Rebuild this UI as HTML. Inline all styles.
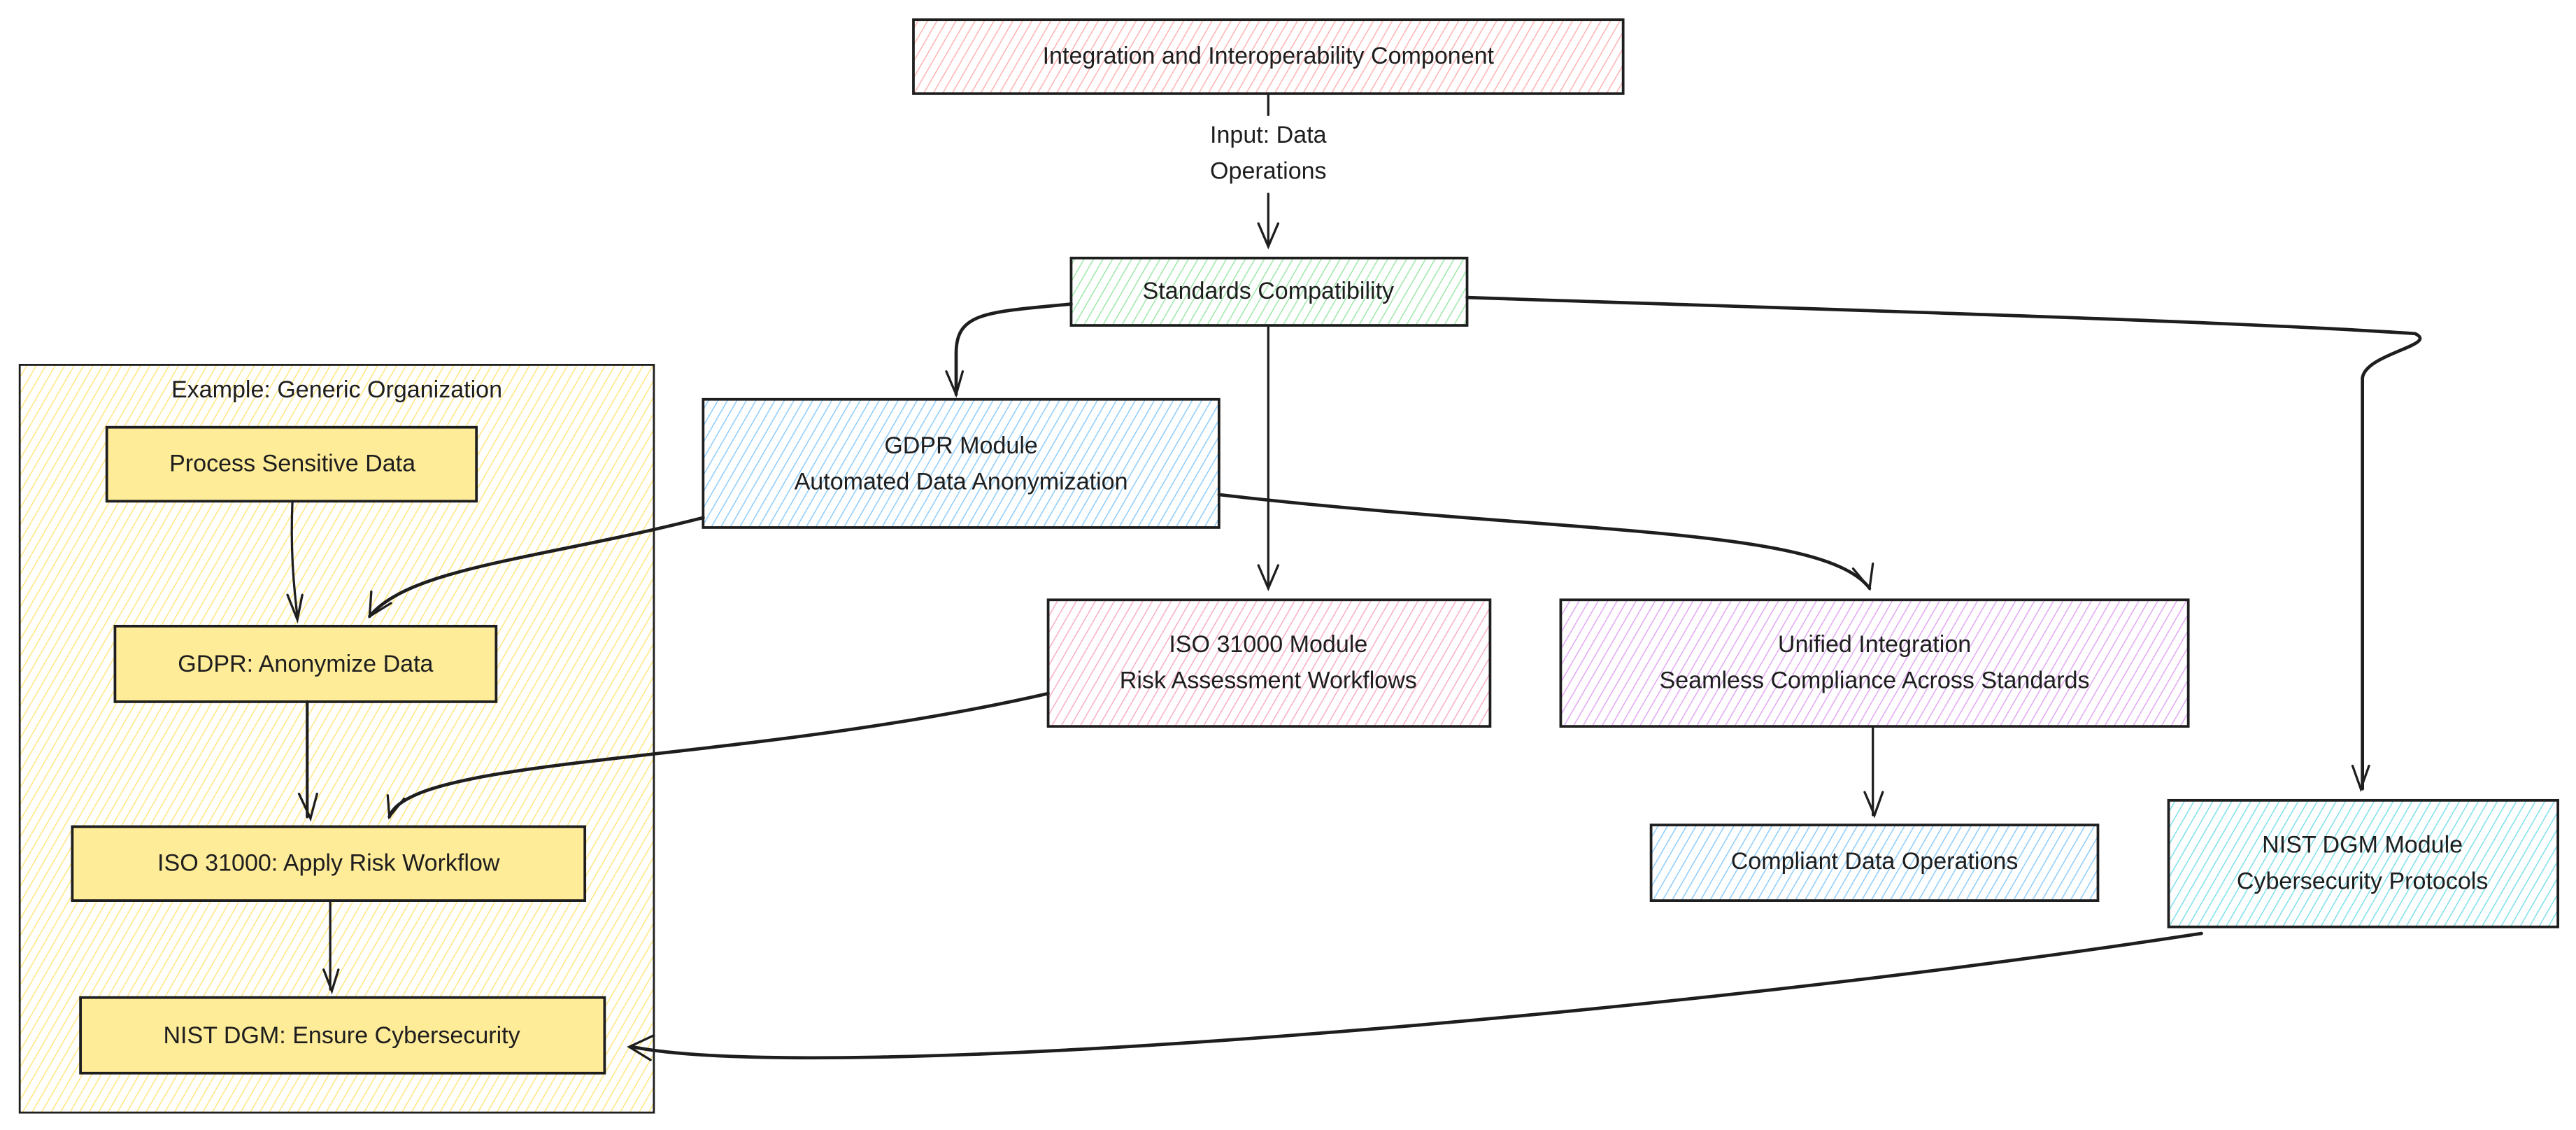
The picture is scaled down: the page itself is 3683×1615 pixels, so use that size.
<!DOCTYPE html>
<html><head><meta charset="utf-8"><style>
html,body{margin:0;padding:0;background:#fff;}
svg{display:block;}
text{font-family:"Liberation Sans",sans-serif;font-size:14.5px;fill:#1e1e1e;text-anchor:middle;dominant-baseline:middle;}
</style></head><body>
<svg width="3683" height="1615" viewBox="0 0 1568 687.6" preserveAspectRatio="none" xmlns="http://www.w3.org/2000/svg">
<defs>
<pattern id="pk" width="5" height="5" patternUnits="userSpaceOnUse" patternTransform="rotate(30)"><rect width="5" height="5" fill="#fff"/><line x1="0" y1="0" x2="0" y2="5" stroke="#ffb3b3" stroke-width="1.3"/></pattern>
<pattern id="gr" width="5" height="5" patternUnits="userSpaceOnUse" patternTransform="rotate(30)"><rect width="5" height="5" fill="#fff"/><line x1="0" y1="0" x2="0" y2="5" stroke="#9fe8aa" stroke-width="1.3"/></pattern>
<pattern id="bl" width="5" height="5" patternUnits="userSpaceOnUse" patternTransform="rotate(30)"><rect width="5" height="5" fill="#fff"/><line x1="0" y1="0" x2="0" y2="5" stroke="#8fcdfb" stroke-width="1.3"/></pattern>
<pattern id="rs" width="5" height="5" patternUnits="userSpaceOnUse" patternTransform="rotate(30)"><rect width="5" height="5" fill="#fff"/><line x1="0" y1="0" x2="0" y2="5" stroke="#f9aec8" stroke-width="1.3"/></pattern>
<pattern id="pu" width="5" height="5" patternUnits="userSpaceOnUse" patternTransform="rotate(30)"><rect width="5" height="5" fill="#fff"/><line x1="0" y1="0" x2="0" y2="5" stroke="#e3a8f5" stroke-width="1.3"/></pattern>
<pattern id="cy" width="5" height="5" patternUnits="userSpaceOnUse" patternTransform="rotate(30)"><rect width="5" height="5" fill="#fff"/><line x1="0" y1="0" x2="0" y2="5" stroke="#7fe0ec" stroke-width="1.3"/></pattern>
<pattern id="yl" width="5" height="5" patternUnits="userSpaceOnUse" patternTransform="rotate(30)"><rect width="5" height="5" fill="#fff"/><line x1="0" y1="0" x2="0" y2="5" stroke="#ffe680" stroke-width="1.3"/></pattern>
</defs>
<g stroke="#1e1e1e" stroke-width="1.6">
<rect x="12" y="222" width="386" height="455" fill="url(#yl)" stroke-width="1.2"/>
<rect x="556" y="12" width="432" height="45" fill="url(#pk)"/>
<rect x="652" y="157" width="241" height="41" fill="url(#gr)"/>
<rect x="428" y="243" width="314" height="78" fill="url(#bl)"/>
<rect x="638" y="365" width="269" height="77" fill="url(#rs)"/>
<rect x="950" y="365" width="382" height="77" fill="url(#pu)"/>
<rect x="1005" y="502" width="272" height="46" fill="url(#bl)"/>
<rect x="1320" y="487" width="237" height="77" fill="url(#cy)"/>
<rect x="65" y="260" width="225" height="45" fill="#ffec99"/>
<rect x="70" y="381" width="232" height="46" fill="#ffec99"/>
<rect x="44" y="503" width="312" height="45" fill="#ffec99"/>
<rect x="49" y="607" width="319" height="46" fill="#ffec99"/>
</g>
<g stroke="#1e1e1e" fill="none" stroke-width="1.4" stroke-linecap="round">
<path d="M772 57 V70 M772 118 V150"/><path d="M766 136 L772 150 L778 136"/>
<path d="M652 185 C600 190 582 190 582 215 V240" stroke-width="2"/><path d="M576 226 L582 240 L586 226"/>
<path d="M772 198 V358"/><path d="M766 344 L772 358 L778 344"/>
<path d="M893 181 C1100 188 1350 195 1470 203 C1485 210 1440 215 1438 230 V480" stroke-width="2"/><path d="M1432 466 L1437 480 L1442 466"/>
<path d="M428 315 C330 340 250 345 225 375" stroke-width="2"/><path d="M226 360 L225 375 L238 367"/>
<path d="M742 301 C950 325 1110 320 1138 358" stroke-width="2"/><path d="M1128 346 L1138 358 L1140 343"/>
<path d="M178 305 C177 330 178 350 181 375"/><path d="M175 362 L181 377 L184 362"/>
<path d="M187 427 V497" stroke-width="1.8"/><path d="M182 483 L189 498 L193 483"/>
<path d="M638 422 C450 465 250 460 237 497" stroke-width="2"/><path d="M236 484 L237 497 L246 486"/>
<path d="M201 548 V602"/><path d="M197 590 L202 603 L206 590"/>
<path d="M1140 442 V496"/><path d="M1135 482 L1141 496 L1146 482"/>
<path d="M1340 568 C1000 620 500 660 385 637" stroke-width="2"/><path d="M398 630 L383 637 L396 645"/>
</g>
<rect x="715" y="72" width="115" height="44" fill="#fff"/>
<text x="772" y="35">Integration and Interoperability Component</text>
<text x="772" y="83">Input: Data</text>
<text x="772" y="105">Operations</text>
<text x="772" y="178">Standards Compatibility</text>
<text x="205" y="238">Example: Generic Organization</text>
<text x="178" y="283">Process Sensitive Data</text>
<text x="186" y="405">GDPR: Anonymize Data</text>
<text x="200" y="526">ISO 31000: Apply Risk Workflow</text>
<text x="208" y="631">NIST DGM: Ensure Cybersecurity</text>
<text x="585" y="272">GDPR Module</text>
<text x="585" y="294">Automated Data Anonymization</text>
<text x="772" y="393">ISO 31000 Module</text>
<text x="772" y="415">Risk Assessment Workflows</text>
<text x="1141" y="393">Unified Integration</text>
<text x="1141" y="415">Seamless Compliance Across Standards</text>
<text x="1141" y="525">Compliant Data Operations</text>
<text x="1438" y="515">NIST DGM Module</text>
<text x="1438" y="537">Cybersecurity Protocols</text>
</svg>
</body></html>
